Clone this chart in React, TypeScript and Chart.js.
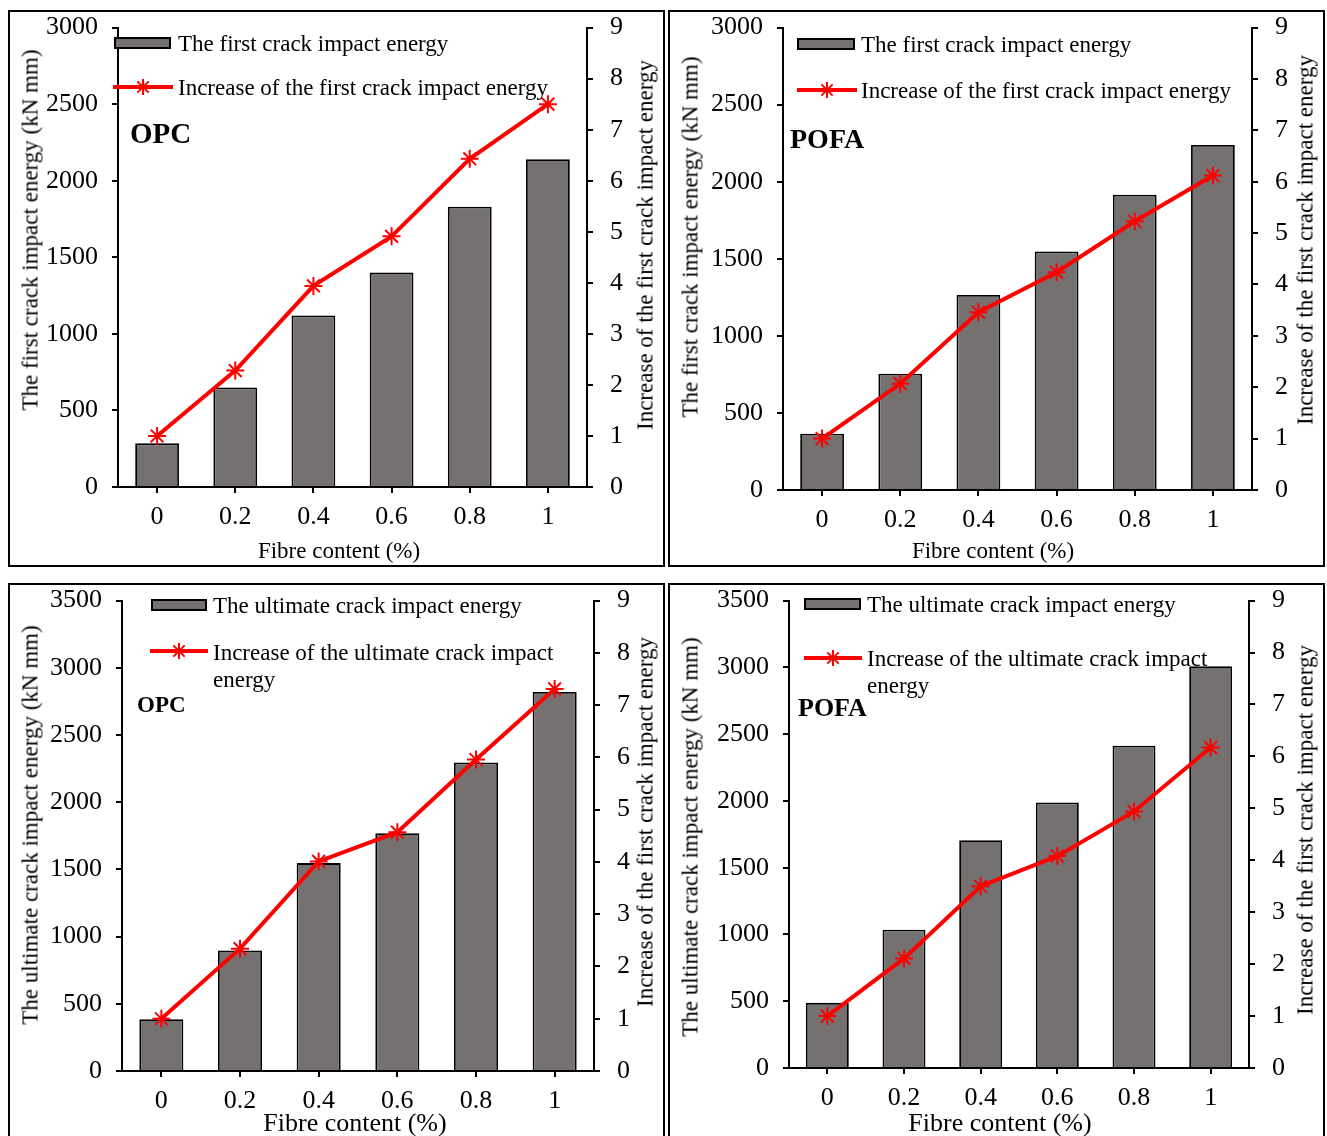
import { useEffect, useRef } from 'react';
import { Chart, registerables } from 'chart.js';

Chart.register(...registerables);

// fibre content categories (x axis)
const fibreContent = ['0', '0.2', '0.4', '0.6', '0.8', '1'];

// first crack impact energy (kN mm) and its increase ratio
const opcFirstEnergy = [285, 650, 1120, 1400, 1830, 2140];
const opcFirstIncrease = [1.0, 2.28, 3.94, 4.91, 6.43, 7.5];
const pofaFirstEnergy = [365, 755, 1265, 1548, 1916, 2239];
const pofaFirstIncrease = [1.0, 2.07, 3.46, 4.24, 5.23, 6.12];

// ultimate crack impact energy (kN mm) and its increase ratio
const opcUltimateEnergy = [385, 896, 1547, 1769, 2295, 2820];
const opcUltimateIncrease = [1.0, 2.34, 4.01, 4.57, 5.96, 7.31];
const pofaUltimateEnergy = [488, 1035, 1705, 1988, 2413, 3008];
const pofaUltimateIncrease = [1.0, 2.11, 3.5, 4.08, 4.94, 6.17];

const SERIF = '"Liberation Serif", "Times New Roman", serif';
const BAR_FILL = '#767171';
const RED = '#ff0000';
const TICK_SIZE = 26;
// chart.js adds the half label height on top of layout padding
const PAD_TOP = 13;
const CANVAS_ABOVE_AREA = 30;

type Box = { left: number; top: number; width: number; height: number };
type Area = { left: number; right: number; top: number; bottom: number };
type Pt = { x: number; y: number };

type PanelDef = {
  box: Box;
  area: Area;
  yMax: number;
  energy: number[];
  increase: number[];
  barLabel: string;
  lineLabel: string;
  yTitle: string;
  y2Title: string;
  tag: string;
  tagPos: Pt;
  tagSize: number;
  barSwatch: Box;
  lineSwatch: { left: number; width: number; y: number };
  legendTextX: number;
  barTextY: number;
  lineTextY: number;
  lineTextWidth?: number;
  yTitlePos: Pt;
  y2TitlePos: Pt;
  xTitlePos: Pt;
  xTitleSize: number;
};

const panels: PanelDef[] = [
  {
    box: { left: 8, top: 10, width: 657, height: 557 },
    area: { left: 118, right: 587, top: 25, bottom: 487 },
    yMax: 3000,
    energy: opcFirstEnergy,
    increase: opcFirstIncrease,
    barLabel: 'The first crack impact energy',
    lineLabel: 'Increase of the first crack impact energy',
    yTitle: 'The first crack impact energy (kN mm)',
    y2Title: 'Increase of the first crack impact energy',
    tag: 'OPC',
    tagPos: { x: 130, y: 133 },
    tagSize: 29,
    barSwatch: { left: 114, top: 37, width: 57, height: 12 },
    lineSwatch: { left: 113, width: 60, y: 87 },
    legendTextX: 178,
    barTextY: 43,
    lineTextY: 87,
    yTitlePos: { x: 30, y: 230 },
    y2TitlePos: { x: 645, y: 245 },
    xTitlePos: { x: 339, y: 550 },
    xTitleSize: 23
  },
  {
    box: { left: 668, top: 10, width: 657, height: 557 },
    area: { left: 783, right: 1252, top: 25, bottom: 490 },
    yMax: 3000,
    energy: pofaFirstEnergy,
    increase: pofaFirstIncrease,
    barLabel: 'The first crack impact energy',
    lineLabel: 'Increase of the first crack impact energy',
    yTitle: 'The first crack impact energy (kN mm)',
    y2Title: 'Increase of the first crack impact energy',
    tag: 'POFA',
    tagPos: { x: 790, y: 138 },
    tagSize: 28,
    barSwatch: { left: 797, top: 38, width: 58, height: 12 },
    lineSwatch: { left: 797, width: 60, y: 90 },
    legendTextX: 861,
    barTextY: 44,
    lineTextY: 90,
    yTitlePos: { x: 690, y: 237 },
    y2TitlePos: { x: 1305, y: 240 },
    xTitlePos: { x: 993, y: 550 },
    xTitleSize: 23
  },
  {
    box: { left: 8, top: 583, width: 657, height: 570 },
    area: { left: 122, right: 594, top: 598, bottom: 1071 },
    yMax: 3500,
    energy: opcUltimateEnergy,
    increase: opcUltimateIncrease,
    barLabel: 'The ultimate crack impact energy',
    lineLabel: 'Increase of the ultimate crack impact energy',
    yTitle: 'The ultimate crack impact energy (kN mm)',
    y2Title: 'Increase of the first crack impact energy',
    tag: 'OPC',
    tagPos: { x: 137, y: 704 },
    tagSize: 23,
    barSwatch: { left: 151, top: 599, width: 56, height: 12 },
    lineSwatch: { left: 150, width: 58, y: 651 },
    legendTextX: 213,
    barTextY: 605,
    lineTextY: 652,
    lineTextWidth: 360,
    yTitlePos: { x: 30, y: 825 },
    y2TitlePos: { x: 645, y: 822 },
    xTitlePos: { x: 355, y: 1122 },
    xTitleSize: 26
  },
  {
    box: { left: 668, top: 583, width: 657, height: 570 },
    area: { left: 789, right: 1249, top: 598, bottom: 1068 },
    yMax: 3500,
    energy: pofaUltimateEnergy,
    increase: pofaUltimateIncrease,
    barLabel: 'The ultimate crack impact energy',
    lineLabel: 'Increase of the ultimate crack impact energy',
    yTitle: 'The ultimate crack impact energy (kN mm)',
    y2Title: 'Increase of the first crack impact energy',
    tag: 'POFA',
    tagPos: { x: 798, y: 707 },
    tagSize: 26,
    barSwatch: { left: 804, top: 598, width: 57, height: 12 },
    lineSwatch: { left: 804, width: 58, y: 658 },
    legendTextX: 867,
    barTextY: 604,
    lineTextY: 658,
    lineTextWidth: 360,
    yTitlePos: { x: 690, y: 837 },
    y2TitlePos: { x: 1305, y: 830 },
    xTitlePos: { x: 1000, y: 1122 },
    xTitleSize: 26
  }
];

function canvasRect(p: PanelDef) {
  const left = p.box.left + 2;
  const top = p.area.top - CANVAS_ABOVE_AREA;
  const width = p.box.width - 4;
  const height = p.box.top + p.box.height - 2 - top;
  return { left, top, width, height };
}

function ComboChart({ p }: { p: PanelDef }) {
  const ref = useRef<HTMLCanvasElement | null>(null);

  useEffect(() => {
    if (!ref.current) return;
    const c = canvasRect(p);
    const yW = p.area.left - c.left;
    const y1W = c.left + c.width - p.area.right;
    const xH = c.top + c.height - p.area.bottom;

    const tickFont = { family: SERIF, size: TICK_SIZE };
    const axisGrid = {
      drawOnChartArea: false,
      drawTicks: true,
      tickLength: 6,
      color: '#000',
      lineWidth: 2
    };
    const axisBorder = { color: '#000', width: 2 };
    const plain = (v: number | string) => String(v);

    const chart = new Chart(ref.current, {
      type: 'bar',
      data: {
        labels: fibreContent,
        datasets: [
          {
            type: 'line' as const,
            label: p.lineLabel,
            data: p.increase,
            yAxisID: 'y1',
            borderColor: RED,
            backgroundColor: RED,
            borderWidth: 4,
            tension: 0,
            pointStyle: 'star',
            pointRadius: 9,
            pointBorderWidth: 2,
            pointBorderColor: RED,
            order: 0
          },
          {
            type: 'bar' as const,
            label: p.barLabel,
            data: p.energy,
            yAxisID: 'y',
            backgroundColor: BAR_FILL,
            borderColor: '#000',
            borderWidth: 1.8,
            barPercentage: 0.56,
            categoryPercentage: 1,
            order: 1
          }
        ] as never
      },
      options: {
        animation: false,
        responsive: true,
        maintainAspectRatio: false,
        layout: { padding: { top: PAD_TOP, left: 0, right: 0, bottom: 0 } },
        plugins: { legend: { display: false }, tooltip: { enabled: false } },
        scales: {
          x: {
            offset: true,
            grid: { ...axisGrid, offset: false },
            border: axisBorder,
            ticks: { color: '#000', font: tickFont, padding: 9, maxRotation: 0 },
            afterFit: (s: { height: number }) => {
              s.height = xH;
            }
          },
          y: {
            position: 'left',
            min: 0,
            max: p.yMax,
            grid: axisGrid,
            border: axisBorder,
            ticks: { stepSize: 500, color: '#000', font: tickFont, padding: 14, callback: plain },
            afterFit: (s: { width: number }) => {
              s.width = yW;
            }
          },
          y1: {
            position: 'right',
            min: 0,
            max: 9,
            grid: axisGrid,
            border: axisBorder,
            ticks: { stepSize: 1, color: '#000', font: tickFont, padding: 17, callback: plain },
            afterFit: (s: { width: number }) => {
              s.width = y1W;
            }
          }
        }
      } as never
    });

    return () => chart.destroy();
  }, [p]);

  const c = canvasRect(p);
  return (
    <div
      style={{
        position: 'absolute',
        left: c.left,
        top: c.top,
        width: c.width,
        height: c.height
      }}
    >
      <canvas ref={ref} />
    </div>
  );
}

function Text({
  x,
  y,
  size,
  children,
  bold,
  rotate,
  center,
  width
}: {
  x: number;
  y: number;
  size: number;
  children: React.ReactNode;
  bold?: boolean;
  rotate?: boolean;
  center?: boolean;
  width?: number;
}) {
  const lh = Math.round(size * 1.18);
  let transform = 'translateY(-50%)';
  if (center) transform = 'translate(-50%, -50%)';
  if (rotate) transform = 'translate(-50%, -50%) rotate(-90deg)';
  return (
    <div
      style={{
        position: 'absolute',
        left: x,
        top: width ? y - lh / 2 : y,
        transform: width ? undefined : transform,
        fontFamily: SERIF,
        fontSize: size,
        lineHeight: `${lh}px`,
        fontWeight: bold ? 'bold' : 'normal',
        whiteSpace: width ? 'normal' : 'nowrap',
        width,
        color: '#000'
      }}
    >
      {children}
    </div>
  );
}

function LineSwatch({ left, width, y }: { left: number; width: number; y: number }) {
  const mid = width / 2;
  const r = 8;
  const d = r * 0.7071;
  return (
    <svg
      width={width}
      height={20}
      style={{ position: 'absolute', left, top: y - 10 }}
    >
      <line x1={0} y1={10} x2={width} y2={10} stroke={RED} strokeWidth={4} />
      <g stroke={RED} strokeWidth={2}>
        <line x1={mid} y1={10 - r} x2={mid} y2={10 + r} />
        <line x1={mid - d} y1={10 - d} x2={mid + d} y2={10 + d} />
        <line x1={mid - d} y1={10 + d} x2={mid + d} y2={10 - d} />
      </g>
    </svg>
  );
}

function Panel({ p }: { p: PanelDef }) {
  return (
    <>
      <div
        style={{
          position: 'absolute',
          left: p.box.left,
          top: p.box.top,
          width: p.box.width,
          height: p.box.height,
          border: '2px solid #000',
          boxSizing: 'border-box'
        }}
      />
      <ComboChart p={p} />
      <div
        style={{
          position: 'absolute',
          left: p.barSwatch.left,
          top: p.barSwatch.top,
          width: p.barSwatch.width,
          height: p.barSwatch.height,
          background: BAR_FILL,
          border: '2px solid #000',
          boxSizing: 'border-box'
        }}
      />
      <Text x={p.legendTextX} y={p.barTextY} size={23}>
        {p.barLabel}
      </Text>
      <LineSwatch {...p.lineSwatch} />
      <Text x={p.legendTextX} y={p.lineTextY} size={23} width={p.lineTextWidth}>
        {p.lineLabel}
      </Text>
      <Text x={p.tagPos.x} y={p.tagPos.y} size={p.tagSize} bold>
        {p.tag}
      </Text>
      <Text x={p.yTitlePos.x} y={p.yTitlePos.y} size={23} rotate>
        {p.yTitle}
      </Text>
      <Text x={p.y2TitlePos.x} y={p.y2TitlePos.y} size={23} rotate>
        {p.y2Title}
      </Text>
      <Text x={p.xTitlePos.x} y={p.xTitlePos.y} size={p.xTitleSize} center>
        Fibre content (%)
      </Text>
    </>
  );
}

export default function App() {
  return (
    <div
      style={{
        position: 'fixed',
        left: 0,
        top: 0,
        width: 1327,
        height: 1136,
        overflow: 'hidden',
        background: '#fff'
      }}
    >
      {panels.map((p, i) => (
        <Panel key={i} p={p} />
      ))}
    </div>
  );
}
